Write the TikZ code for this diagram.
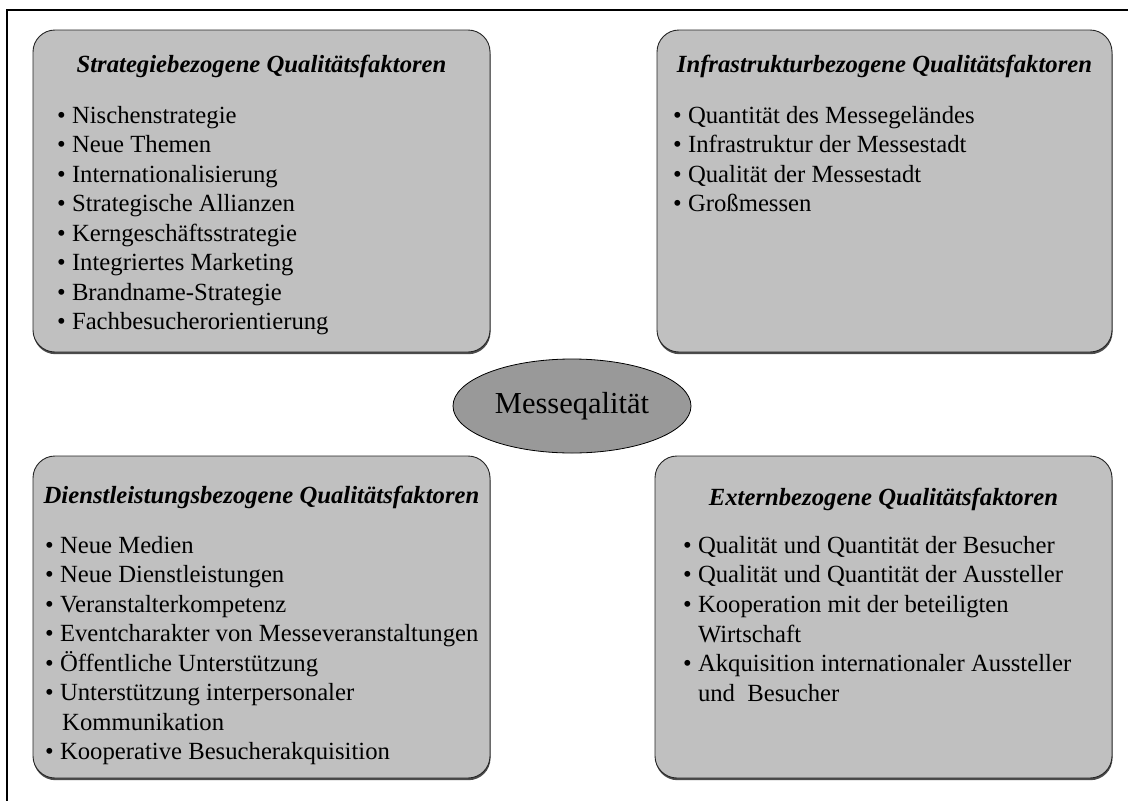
\documentclass[tikz,border=0pt]{standalone}
\usepackage{fontspec}
\setmainfont{Liberation Serif}
\usetikzlibrary{shadows,shapes.geometric}
\definecolor{panelgray}{RGB}{192,192,192}
\definecolor{hubgray}{RGB}{153,153,153}
\begin{document}
\begin{tikzpicture}[x=1pt,y=-1pt,
  panel/.style={draw=black!85, line width=0.9pt, fill=panelgray,
    rounded corners=22pt, inner sep=0pt,
    drop shadow={shadow xshift=0.5pt, shadow yshift=-2.2pt, fill=black!70, opacity=1}},
  hub/.style={ellipse, draw=black, line width=0.8pt, fill=hubgray, inner sep=0pt,
    minimum width=238pt, minimum height=94pt,
    font=\fontsize{30.5}{34}\selectfont},
  heading/.style={anchor=base, inner sep=0pt,
    font=\fontsize{24.7}{29.5}\selectfont\bfseries\itshape},
  item/.style={anchor=base west, inner sep=0pt,
    font=\fontsize{24.7}{29.5}\selectfont}]
% page and outer frame
\fill[white] (0,0) rectangle (1128,801);
\path[use as bounding box] (0,0) rectangle (1128,801);
\draw[line width=2pt] (7,801) -- (7,10) -- (1128,10);

% four factor panels
\node[panel, minimum width=457pt, minimum height=322pt] (strat) at (261.5,191) {};
\node[panel, minimum width=455pt, minimum height=322pt] (infra) at (884.5,191) {};
\node[panel, minimum width=457pt, minimum height=322pt] (dienst) at (261.5,617) {};
\node[panel, minimum width=457pt, minimum height=322pt] (extern) at (883.5,617) {};

% centre
\node[hub] (hub) at (572,406) {Messeqalität};

% headings
\node[heading] (strat-h) at (261.5,72) {Strategiebezogene Qualitätsfaktoren};
\node[heading] (infra-h) at (884.5,72) {Infrastrukturbezogene Qualitätsfaktoren};
\node[heading] (dienst-h) at (261.5,503) {Dienstleistungsbezogene Qualitätsfaktoren};
\node[heading] (extern-h) at (883.5,505) {Externbezogene Qualitätsfaktoren};

% item lists
\foreach \t [count=\i] in {• Nischenstrategie, • Neue Themen, • Internationalisierung,
    • Strategische Allianzen, • Kerngeschäftsstrategie, • Integriertes Marketing,
    • Brandname-Strategie, • Fachbesucherorientierung}
  \node[item] (strat-\i) at (57,{123+29.5*(\i-1)}) {\t};

\foreach \t [count=\i] in {• Quantität des Messegeländes, • Infrastruktur der Messestadt,
    • Qualität der Messestadt, • Großmessen}
  \node[item] (infra-\i) at (673,{123+29.5*(\i-1)}) {\t};

\foreach \t [count=\i] in {• Neue Medien, • Neue Dienstleistungen, • Veranstalterkompetenz,
    • Eventcharakter von Messeveranstaltungen, • Öffentliche Unterstützung,
    • Unterstützung interpersonaler, {\hspace*{17pt}Kommunikation},
    • Kooperative Besucherakquisition}
  \node[item] (dienst-\i) at (45,{553+29.5*(\i-1)}) {\t};

\foreach \t [count=\i] in {• Qualität und Quantität der Besucher,
    • Qualität und Quantität der Aussteller, • Kooperation mit der beteiligten,
    {\hphantom{• }Wirtschaft}, • Akquisition internationaler Aussteller,
    {\hphantom{• }und\ \ Besucher}}
  \node[item] (extern-\i) at (683,{553+29.7*(\i-1)}) {\t};
\end{tikzpicture}
\end{document}
